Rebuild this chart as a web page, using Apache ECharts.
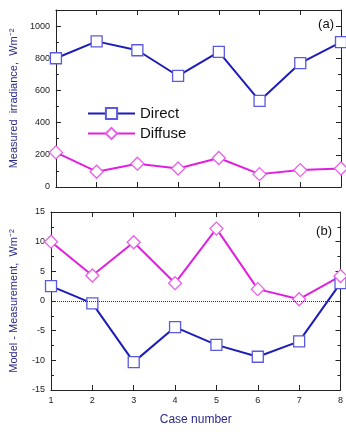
<!DOCTYPE html>
<html>
<head>
<meta charset="utf-8">
<script src="https://cdn.jsdelivr.net/npm/echarts@6/dist/echarts.min.js"></script>
<style>
  html, body { margin: 0; padding: 0; background: #fff; }
  #chart { width: 346px; height: 432px; }
</style>
</head>
<body>
<div id="chart"></div>
<script>
// case numbers
const cases = [1, 2, 3, 4, 5, 6, 7, 8];
// panel (a): measured irradiance, W m-2
const directMeasured = [800, 905, 850, 690, 840, 535, 770, 900];
const diffuseMeasured = [215, 95, 145, 115, 180, 80, 105, 115];
// panel (b): model - measurement, W m-2
const directDiff = [2.5, -0.4, -10.3, -4.4, -7.4, -9.4, -6.8, 3.0];
const diffuseDiff = [10.0, 4.3, 9.9, 3.0, 12.2, 2.0, 0.3, 4.2];

const blue = '#1c1cb8';
const blueMark = '#5a5ae0';
const pink = '#e020e0';
const pinkMark = '#e860e8';
const navy = '#2b2b88';

const pairs = (ys) => cases.map((c, i) => [c, ys[i]]);

// 通用坐标轴样式
const axisBase = {
  axisLine: { show: true, onZero: false, lineStyle: { color: '#222', width: 1 } },
  axisTick: { show: true, inside: true, length: 5, lineStyle: { color: '#222' } },
  minorTick: { show: false },
  splitLine: { show: false },
  axisLabel: { color: '#222', fontSize: 9, fontFamily: 'Liberation Sans', formatter: v => String(v) }
};

function xAxes(gridIndex, showLabels) {
  return [
    { ...axisBase, type: 'value', gridIndex, min: 1, max: 8, interval: 1, position: 'bottom',
      axisLabel: { ...axisBase.axisLabel, show: showLabels, margin: 6 },
      name: showLabels ? 'Case number' : '', nameLocation: 'middle', nameGap: 24,
      nameTextStyle: { color: navy, fontSize: 12, fontFamily: 'Liberation Sans' } },
    { ...axisBase, type: 'value', gridIndex, min: 1, max: 8, interval: 1, position: 'top',
      axisLabel: { show: false } }
  ];
}

function yAxes(gridIndex, min, max, interval, name) {
  const minor = { show: true, splitNumber: 2, length: 3, lineStyle: { color: '#222' } };
  return [
    { ...axisBase, type: 'value', gridIndex, min, max, interval, position: 'left',
      minorTick: minor,
      axisLabel: { ...axisBase.axisLabel, margin: 6, showMaxLabel: max % interval === 0 },
      name, nameLocation: 'middle', nameGap: 32,
      nameTextStyle: { color: navy, fontSize: 11, fontFamily: 'Liberation Sans' } },
    { ...axisBase, type: 'value', gridIndex, min, max, interval, position: 'right',
      minorTick: minor, axisLabel: { show: false } }
  ];
}

const chart = echarts.init(document.getElementById('chart'), null, { renderer: 'canvas' });

chart.setOption({
  animation: false,
  backgroundColor: '#fff',
  grid: [
    { left: 50, top: 10, width: 291, height: 177 },
    { left: 50, top: 212, width: 291, height: 178 }
  ],
  xAxis: [...xAxes(0, false), ...xAxes(1, true)],
  yAxis: [
    ...yAxes(0, 0, 1100, 200, 'Measured  irradiance,  Wm\u207B\u00B2'),
    ...yAxes(1, -15, 15, 5, 'Model - Measurement,  Wm\u207B\u00B2')
  ],
  legend: {
    left: 82, top: 101, orient: 'vertical', itemGap: 5,
    itemWidth: 47, itemHeight: 14,
    textStyle: { color: '#111', fontSize: 15, fontFamily: 'Liberation Sans' },
    data: ['Direct', 'Diffuse']
  },
  graphic: [
    { type: 'text', right: 12, top: 18, style: { text: '(a)', fontSize: 13, fill: '#111', fontFamily: 'Liberation Sans' } },
    { type: 'text', right: 14, top: 225, style: { text: '(b)', fontSize: 13, fill: '#111', fontFamily: 'Liberation Sans' } }
  ],
  series: [
    { name: 'Direct', type: 'line', xAxisIndex: 0, yAxisIndex: 0, data: pairs(directMeasured),
      symbol: 'rect', symbolSize: 11, lineStyle: { color: blue, width: 2 },
      itemStyle: { color: '#fff', borderColor: blueMark, borderWidth: 1.3 } },
    { name: 'Diffuse', type: 'line', xAxisIndex: 0, yAxisIndex: 0, data: pairs(diffuseMeasured),
      symbol: 'diamond', symbolSize: 13, lineStyle: { color: pink, width: 2 },
      itemStyle: { color: '#fff', borderColor: pinkMark, borderWidth: 1.3 } },
    { name: 'Direct', type: 'line', xAxisIndex: 2, yAxisIndex: 2, data: pairs(directDiff),
      symbol: 'rect', symbolSize: 11, lineStyle: { color: blue, width: 2 },
      itemStyle: { color: '#fff', borderColor: blueMark, borderWidth: 1.3 },
      markLine: { silent: true, symbol: 'none', label: { show: false },
        lineStyle: { color: '#333', type: 'dotted', width: 1 }, data: [{ yAxis: 0 }] } },
    { name: 'Diffuse', type: 'line', xAxisIndex: 2, yAxisIndex: 2, data: pairs(diffuseDiff),
      symbol: 'diamond', symbolSize: 13, lineStyle: { color: pink, width: 2 },
      itemStyle: { color: '#fff', borderColor: pinkMark, borderWidth: 1.3 } }
  ]
});
</script>
</body>
</html>
